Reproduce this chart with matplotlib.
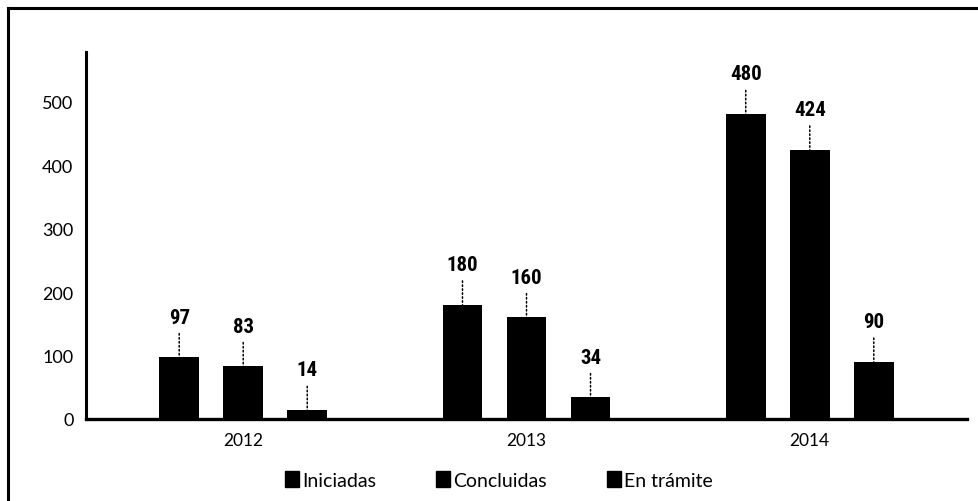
import matplotlib
matplotlib.use("Agg")
import matplotlib.pyplot as plt
from matplotlib import font_manager
from matplotlib.patches import Patch
from matplotlib.lines import Line2D
import numpy as np

years = ["2012", "2013", "2014"]
series_names = ["Iniciadas", "Concluidas", "En trámite"]
iniciadas = [97, 180, 480]
concluidas = [83, 160, 424]
en_tramite = [14, 34, 90]
y_ticks = [0, 100, 200, 300, 400, 500]


def pick(*names):
    available = {f.name for f in font_manager.fontManager.ttflist}
    for n in names:
        if n in available:
            return n
    return "DejaVu Sans"


num_font = pick("Liberation Sans Narrow", "Roboto Condensed", "Roboto", "DejaVu Sans")
txt_font = pick("Lato", "DejaVu Sans")

fig = plt.figure(figsize=(9.79, 5.02), dpi=100)
ax = fig.add_axes([86 / 979, 1 - 420 / 502, (967 - 86) / 979, (420 - 53) / 502])

x = np.arange(len(years))
step = 0.226
width = 0.141
all_series = [iniciadas, concluidas, en_tramite]
for i, vals in enumerate(all_series):
    xs = x + (i - 1) * step
    ax.bar(xs, vals, width=width, color="black", zorder=2)
    for xi, v in zip(xs, vals):
        ax.annotate(str(v), xy=(xi, v), xytext=(0, 29), textcoords="offset points",
                    ha="center", va="center", fontsize=15, fontweight="bold",
                    family=num_font,
                    arrowprops=dict(arrowstyle="-", linestyle=(0, (1, 1.6)), lw=1.1,
                                    color="black", shrinkA=3, shrinkB=0))

ax.set_xlim(-0.555, 2.555)
ax.set_ylim(0, 578)
ax.set_yticks(y_ticks)
ax.set_yticklabels([str(t) for t in y_ticks], family=txt_font, fontsize=13)
ax.set_xticks(x)
ax.set_xticklabels(years, family=txt_font, fontsize=12.5)
ax.tick_params(axis="both", length=0)
ax.tick_params(axis="y", pad=9)
ax.tick_params(axis="x", pad=9)
for s in ("top", "right"):
    ax.spines[s].set_visible(False)
ax.spines["left"].set_linewidth(2.2)
ax.spines["bottom"].set_linewidth(2.4)

handles = [Patch(facecolor="black", edgecolor="black", label=n) for n in series_names]
fig.legend(handles=handles, loc="center", bbox_to_anchor=(499 / 979, 1 - 481 / 502),
           ncol=3, frameon=False, handlelength=0.72, handleheight=0.9,
           handletextpad=0.15, columnspacing=3.1,
           prop=dict(family=txt_font, size=14))

# outer frame: top and left edges
fig.add_artist(Line2D([8 / 979, 1], [1 - 9 / 502, 1 - 9 / 502], color="black", lw=2.2,
                      transform=fig.transFigure))
fig.add_artist(Line2D([8 / 979, 8 / 979], [0, 1 - 9 / 502], color="black", lw=2.2,
                      transform=fig.transFigure))

fig.savefig("out.png", dpi=100)
